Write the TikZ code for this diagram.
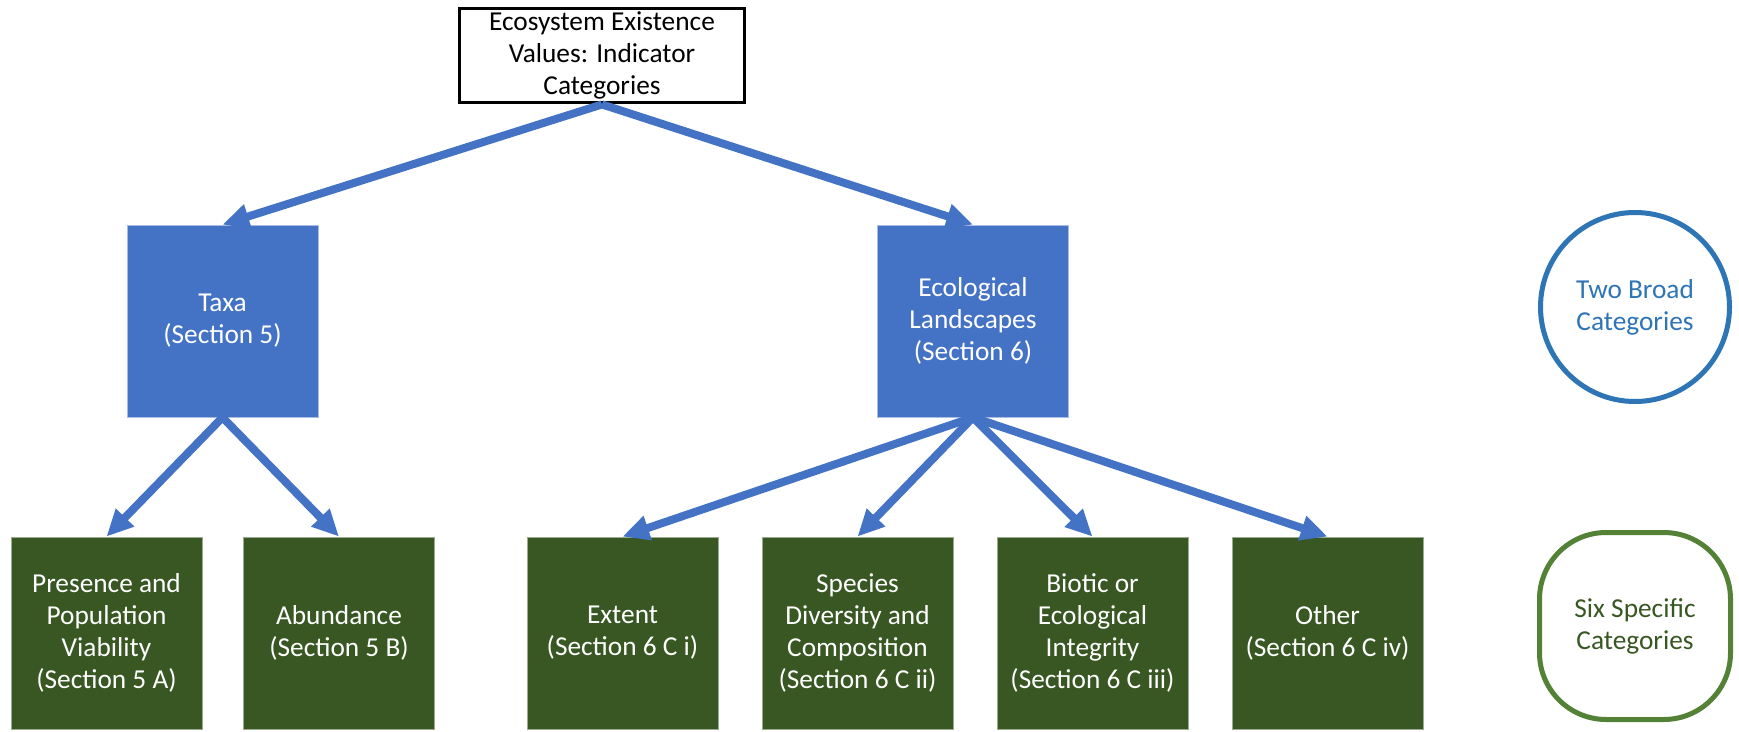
\documentclass[tikz,border=0pt]{standalone}
\usepackage{fontspec}
\setmainfont{Carlito}
\usetikzlibrary{arrows.meta}
\definecolor{offblue}{HTML}{4472C4}
\definecolor{darkgreen}{HTML}{385723}
\definecolor{cblue}{HTML}{2E75B6}
\definecolor{cgreen}{HTML}{538135}
\definecolor{blueedge}{HTML}{A9BCE3}
\definecolor{greenedge}{HTML}{9AAB90}
\begin{document}
\begin{tikzpicture}[x=0.75pt,y=-0.75pt,
  txt/.style={font=\fontsize{20.5}{24}\selectfont, align=center, inner sep=0pt},
  topbox/.style={txt, draw=black, line width=2.4pt, fill=white, minimum width=214pt, minimum height=71pt},
  broadbox/.style={txt, text=white, fill=offblue, draw=blueedge, line width=0.6pt, minimum width=143.25pt, minimum height=144pt},
  specbox/.style={txt, text=white, fill=darkgreen, draw=greenedge, line width=0.6pt, minimum width=143.25pt, minimum height=144pt},
  legcircle/.style={txt, circle, draw=cblue, text=cblue, line width=3.75pt, minimum size=141.75pt},
  legrounded/.style={txt, rectangle, rounded corners=50pt, draw=cgreen, text=darkgreen, line width=3.75pt, minimum width=143.25pt, minimum height=140.25pt},
  arr/.style={draw=offblue, line width=6pt, -{Triangle[length=20pt,width=18pt]}}
]
\fill[white] (0,0) rectangle (1739,732);
\useasboundingbox (0,0) rectangle (1739,732);

\node[topbox] (top) at (602,55.5) {Ecosystem Existence\\Values: Indicator\\Categories};

\node[broadbox] (taxa) at (222.5,321) {Taxa\\(Section 5)};
\node[broadbox] (eco) at (973,321) {Ecological\\Landscapes\\(Section 6)};

\node[specbox] (pres) at (106.5,633) {Presence and\\Population\\Viability\\(Section 5 A)};
\node[specbox] (abun) at (339,633) {Abundance\\(Section 5 B)};
\node[specbox] (ext) at (622.5,633) {Extent\\(Section 6 C i)};
\node[specbox] (spec) at (857.5,633) {Species\\Diversity and\\Composition\\(Section 6 C ii)};
\node[specbox] (biot) at (1092.5,633) {Biotic or\\Ecological\\Integrity\\(Section 6 C iii)};
\node[specbox] (oth) at (1327.5,633) {Other\\(Section 6 C iv)};

\node[legcircle] (two) at (1635,307) {Two Broad\\Categories};
\node[legrounded] (six) at (1635,626) {Six Specific\\Categories};

\draw[arr] (top.south) -- (taxa.north);
\draw[arr] (top.south) -- (eco.north);
\draw[arr] (taxa.south) -- (pres.north);
\draw[arr] (taxa.south) -- (abun.north);
\draw[arr] (eco.south) -- (ext.north);
\draw[arr] (eco.south) -- (spec.north);
\draw[arr] (eco.south) -- (biot.north);
\draw[arr] (eco.south) -- (oth.north);
\end{tikzpicture}
\end{document}
